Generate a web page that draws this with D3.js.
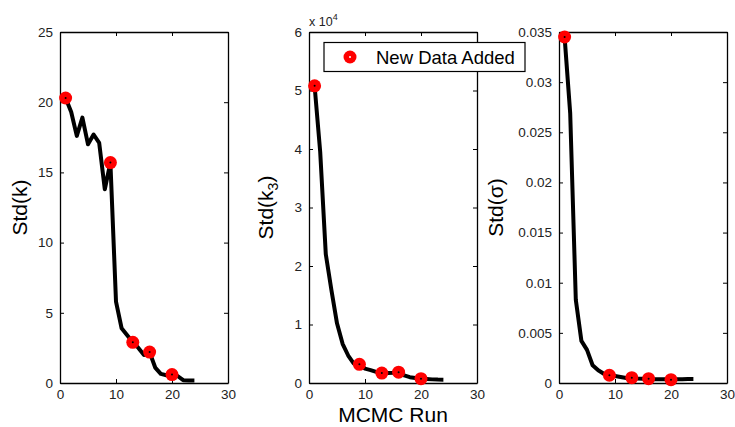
<!DOCTYPE html>
<html>
<head>
<meta charset="utf-8">
<script src="https://cdn.jsdelivr.net/npm/d3@7"></script>
<style>
  body { margin: 0; background: #fff; }
  svg { font-family: "Liberation Sans", Arial, sans-serif; }
</style>
</head>
<body>
<div id="chart"></div>
<script>
// MCMC run index
const runs = d3.range(1, 25);

// std values per run
const stdK = [20.3, 19.3, 17.6, 18.9, 17.0, 17.7, 17.1, 13.8, 15.7, 5.8, 3.9, 3.4,
              2.9, 2.5, 2.0, 2.2, 1.1, 0.65, 0.55, 0.6, 0.5, 0.2, 0.17, 0.17];
const stdK3 = [50800, 39500, 22000, 15900, 10200, 6700, 4700, 3300, 3200, 2450, 2200, 1900,
               1700, 1700, 1750, 1850, 1300, 1000, 860, 740, 680, 620, 580, 570];
const stdSigma = [0.0345, 0.0269, 0.0083, 0.0042, 0.0033, 0.00177, 0.00127, 0.00093, 0.00077,
                  0.0007, 0.0006, 0.0005, 0.00053, 0.00045, 0.00042, 0.00043, 0.00037, 0.00037,
                  0.00037, 0.00033, 0.00037, 0.00037, 0.0004, 0.0004];

// runs where new data was added
const addedRuns = [1, 9, 13, 16, 20];

const panels = [
  { values: stdK, yMax: 25, yTicks: [0, 5, 10, 15, 20, 25], fmt: d => d, left: 60, label: "Std(k)", lx: 27 },
  { values: stdK3, yMax: 60000, yTicks: [0, 10000, 20000, 30000, 40000, 50000, 60000], fmt: d => d / 10000, left: 309, label: "k3", lx: 273 },
  { values: stdSigma, yMax: 0.035, yTicks: [0, 0.005, 0.01, 0.015, 0.02, 0.025, 0.03, 0.035], fmt: d => d, left: 559, label: "Std(σ)", lx: 503 }
];

const plotTop = 32, plotBottom = 383;
const pw = 168;

const svg = d3.select("#chart")
  .append("svg")
  .attr("width", 735)
  .attr("height", 427);

panels.forEach(p => {
  const x = d3.scaleLinear().domain([0, 30]).range([p.left, p.left + pw]);
  const y = d3.scaleLinear().domain([0, p.yMax]).range([plotBottom, plotTop]);
  const g = svg.append("g");

  // axes with inward ticks on all four sides
  g.append("g")
    .attr("transform", `translate(0,${plotBottom})`)
    .call(d3.axisBottom(x).tickValues([0, 10, 20, 30]).tickSizeInner(-4).tickSizeOuter(0).tickPadding(6));
  g.append("g")
    .attr("transform", `translate(0,${plotTop})`)
    .call(d3.axisTop(x).tickValues([0, 10, 20, 30]).tickSizeInner(-4).tickSizeOuter(0).tickFormat(""));
  g.append("g")
    .attr("transform", `translate(${p.left},0)`)
    .call(d3.axisLeft(y).tickValues(p.yTicks).tickFormat(p.fmt).tickSizeInner(-4).tickSizeOuter(0).tickPadding(7));
  g.append("g")
    .attr("transform", `translate(${p.left + pw},0)`)
    .call(d3.axisRight(y).tickValues(p.yTicks).tickSizeInner(-4).tickSizeOuter(0).tickFormat(""));

  g.selectAll(".domain").attr("stroke", "#000").attr("stroke-width", 1.3);
  g.selectAll(".tick line").attr("stroke", "#000");
  g.selectAll(".tick text").attr("font-size", 13.5).attr("fill", "#222")
    .style("font-family", "Liberation Sans, Arial, sans-serif");

  // line
  const line = d3.line().x((d, i) => x(runs[i])).y(d => y(d));
  g.append("path")
    .datum(p.values)
    .attr("fill", "none")
    .attr("stroke", "#000")
    .attr("stroke-width", 4)
    .attr("stroke-linejoin", "round")
    .attr("d", line);

  // markers
  const pts = addedRuns.map(r => ({ r, v: p.values[runs.indexOf(r)] }));
  g.selectAll(".mk")
    .data(pts)
    .enter().append("circle")
    .attr("cx", d => x(d.r))
    .attr("cy", d => y(d.v))
    .attr("r", 6.5)
    .attr("fill", "#ff0000");
  g.selectAll(".dot")
    .data(pts)
    .enter().append("circle")
    .attr("cx", d => x(d.r))
    .attr("cy", d => y(d.v))
    .attr("r", 1)
    .attr("fill", "#000");

  // y label
  const t = g.append("text")
    .attr("transform", `translate(${p.lx},${(plotTop + plotBottom) / 2}) rotate(-90)`)
    .attr("text-anchor", "middle")
    .attr("font-size", 21)
    .attr("fill", "#000");
  if (p.label === "k3") {
    t.append("tspan").text("Std(k");
    t.append("tspan").attr("font-size", 14).attr("dy", 5).text("3");
    t.append("tspan").attr("dy", -5).text(")");
  } else {
    t.text(p.label);
  }
});

// exponent label on middle panel
const ex = svg.append("text").attr("x", 309).attr("y", 26).attr("font-size", 12.5).attr("fill", "#222");
ex.append("tspan").text("x 10");
ex.append("tspan").attr("font-size", 9).attr("dy", -6).text("4");

// x label
svg.append("text")
  .attr("x", 393)
  .attr("y", 421.5)
  .attr("text-anchor", "middle")
  .attr("font-size", 21)
  .text("MCMC Run");

// legend
const lg = svg.append("g");
lg.append("rect")
  .attr("x", 324).attr("y", 42.5).attr("width", 201).attr("height", 29)
  .attr("fill", "#fff").attr("stroke", "#000").attr("stroke-width", 1.2);
lg.append("circle").attr("cx", 350).attr("cy", 57).attr("r", 6.5).attr("fill", "#ff0000");
lg.append("circle").attr("cx", 350).attr("cy", 57).attr("r", 1).attr("fill", "#fff");
lg.append("text").attr("x", 376).attr("y", 63.5).attr("font-size", 18.5).text("New Data Added");
</script>
</body>
</html>
